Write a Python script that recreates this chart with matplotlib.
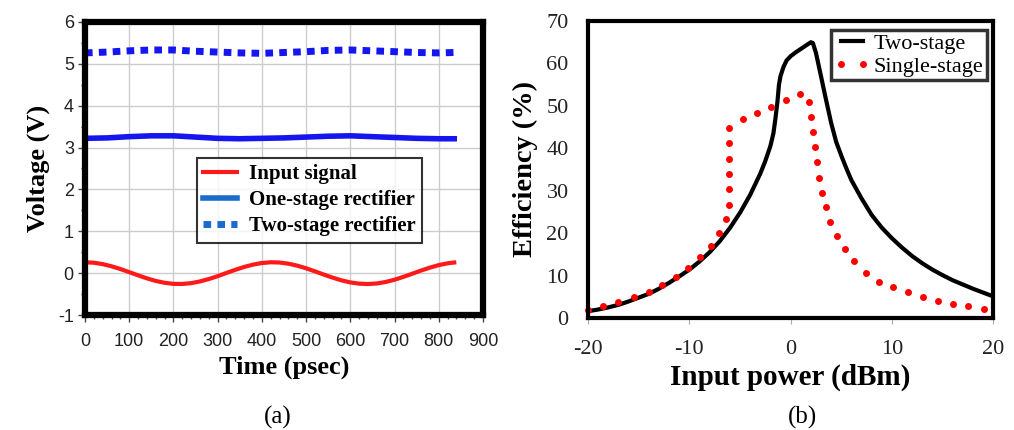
import numpy as np
import matplotlib.pyplot as plt
from matplotlib.ticker import MultipleLocator

plt.rcParams['axes.unicode_minus'] = False

# (a) rectifier output voltages
t_in = [0, 20, 40, 60, 80, 100, 120, 140, 160, 180, 200, 220, 240, 260, 280, 300,
        320, 340, 360, 380, 400, 420, 440, 460, 480, 500, 520, 540, 560, 580, 600,
        620, 640, 660, 680, 700, 720, 740, 760, 780, 800, 820, 835]
v_in = [0.26, 0.249, 0.216, 0.164, 0.099, 0.024, -0.052, -0.124, -0.186, -0.230,
        -0.256, -0.258, -0.239, -0.198, -0.141, -0.072, 0.005, 0.080, 0.148, 0.204,
        0.242, 0.260, 0.254, 0.226, 0.179, 0.116, 0.043, -0.034, -0.107, -0.172,
        -0.221, -0.251, -0.260, -0.246, -0.211, -0.157, -0.089, -0.014, 0.062,
        0.132, 0.192, 0.235, 0.254]
t_dc = [0, 50, 100, 150, 200, 250, 300, 350, 400, 450, 500, 550, 600, 650, 700, 750, 800, 835]
v_one = [3.22, 3.23, 3.26, 3.28, 3.28, 3.25, 3.22, 3.21, 3.22, 3.23, 3.25, 3.27, 3.28, 3.26, 3.24, 3.22, 3.21, 3.21]
v_two = [5.26, 5.28, 5.31, 5.33, 5.33, 5.30, 5.28, 5.26, 5.25, 5.27, 5.29, 5.32, 5.33, 5.31, 5.29, 5.27, 5.26, 5.27]

# (b) efficiency vs input power
p_two = [-20, -19, -18, -17, -16, -15, -14, -13, -12, -11, -10, -9, -8, -7, -6, -5, -4,
         -3, -2.5, -2, -1.7, -1.5, -1.3, -1.15, -1.0, -0.7, -0.4, 0, 0.5, 1, 1.5, 2.0,
         2.2, 2.5, 3, 3.4, 4, 4.5, 5, 5.5, 6, 7, 8, 9, 10, 11, 12, 13, 14, 15, 16, 17,
         18, 19, 20]
eff_two = [1.6, 2.0, 2.5, 3.1, 3.9, 4.8, 5.7, 6.9, 8.3, 9.8, 11.4, 13.3, 15.5, 18.1,
           21.2, 24.8, 29.0, 34.0, 37.0, 40.5, 43.5, 47.0, 51.0, 55.0, 57.0, 59.2, 60.7,
           61.7, 62.6, 63.4, 64.2, 65.0, 64.8, 62.5, 57.0, 52.5, 46.0, 41.5, 38.3, 35.3,
           32.5, 28.2, 24.3, 21.3, 18.8, 16.6, 14.6, 12.9, 11.4, 10.1, 8.9, 7.9, 6.9,
           6.0, 5.1]
p_one = [-20, -18.5, -17, -15.5, -14, -12.7, -11.35, -10.1, -8.94, -7.89, -7.06, -6.4,
         -6.07, -6.07, -6.07, -6.07, -6.07, -6.07, -4.72, -3.33, -1.95, -0.5, 0.89, 1.78,
         2.01, 2.21, 2.38, 2.61, 2.81, 3.1, 3.5, 3.93, 4.59, 5.35, 6.3, 7.46, 8.71, 10.13,
         11.58, 13.04, 14.59, 16.07, 17.56, 19.11]
eff_one = [1.96, 2.74, 3.68, 4.86, 6.11, 7.76, 9.72, 11.83, 14.26, 16.85, 19.98, 23.28,
           26.72, 30.41, 33.93, 37.54, 41.14, 44.75, 46.79, 48.28, 49.76, 51.41, 52.74,
           50.94, 47.34, 43.81, 40.28, 36.68, 33.07, 29.55, 26.1, 22.65, 19.36, 16.22,
           13.4, 10.58, 8.54, 7.37, 6.03, 4.94, 4.08, 3.29, 2.74, 2.19]

serif = ['Liberation Serif', 'DejaVu Serif']
sans = ['Liberation Sans', 'DejaVu Sans']

fig = plt.figure(figsize=(10.14, 4.30), dpi=100)

# ---- panel (a)
ax1 = fig.add_axes([0.0838, 0.2674, 0.3925, 0.6816])
ax1.plot(t_in, v_in, color='#ff1a1a', lw=3, label='Input signal')
ax1.plot(t_dc, v_one, color='#1515f0', lw=4, label='One-stage rectifier')
ax1.plot(t_dc, v_two, color='#1515f0', lw=5, ls=(0, (1.1, 0.9)), label='Two-stage rectifier')
ax1.set_xlim(0, 900)
ax1.set_ylim(-1, 6)
ax1.xaxis.set_major_locator(MultipleLocator(100))
ax1.xaxis.set_minor_locator(MultipleLocator(20))
ax1.yaxis.set_major_locator(MultipleLocator(1))
ax1.yaxis.set_minor_locator(MultipleLocator(0.5))
ax1.grid(True, color='#cccccc', lw=1)
ax1.set_axisbelow(True)
for s in ax1.spines.values():
    s.set_linewidth(4.5)
ax1.tick_params(which='both', direction='out', color='#444444', width=1)
ax1.tick_params(which='major', length=5)
ax1.tick_params(which='minor', length=3)
ax1.tick_params(axis='x', pad=8)
ax1.tick_params(axis='y', pad=3)
for lab in ax1.get_xticklabels() + ax1.get_yticklabels():
    lab.set_family(sans)
    lab.set_fontsize(13)
    lab.set_color('#222222')
ax1.set_xlabel('Time (psec)', family=serif, fontweight='bold', fontsize=19, labelpad=4)
ax1.set_ylabel('Voltage (V)', family=serif, fontweight='bold', fontsize=19, labelpad=6)
leg1 = ax1.legend(loc='upper left', bbox_to_anchor=(0.282, 0.537), frameon=True,
                  fancybox=False, edgecolor='black', handlelength=1.6, borderpad=0.3,
                  labelspacing=0.3, handletextpad=0.6, borderaxespad=0,
                  prop={'family': serif, 'weight': 'bold', 'size': 15})
leg1.get_frame().set_linewidth(1.5)
leg1.get_lines()[1].set_color('#1a6ccc')
leg1.get_lines()[2].set_color('#1a6ccc')
fig.text(0.274, 0.015, '(a)', family=serif, fontsize=18, ha='center')

# ---- panel (b)
ax2 = fig.add_axes([0.580, 0.2605, 0.3994, 0.6907])
ax2.plot(p_two, eff_two, color='black', lw=3, label='Two-stage')
ax2.plot(p_one, eff_one, ls='none', marker='o', ms=5, color='#ff0000', mec='none',
         label='Single-stage', clip_on=False)
ax2.set_xlim(-20, 20)
ax2.set_ylim(0, 70)
ax2.set_xticks([-20, -10, 0, 10, 20])
ax2.set_yticks(range(0, 71, 10))
for s in ax2.spines.values():
    s.set_linewidth(3)
ax2.tick_params(axis='x', direction='out', length=4, color='#aaaaaa', pad=12)
ax2.tick_params(axis='y', length=0, pad=14)
for lab in ax2.get_xticklabels() + ax2.get_yticklabels():
    lab.set_family(serif)
    lab.set_fontsize(16)
    lab.set_color('#222222')
ax2.set_xlabel('Input power (dBm)', family=serif, fontweight='bold', fontsize=21, labelpad=3)
ax2.set_ylabel('Efficiency (%)', family=serif, fontweight='bold', fontsize=20.5, labelpad=6)
leg2 = ax2.legend(loc='upper right', bbox_to_anchor=(0.985, 0.97), frameon=True,
                  fancybox=False, edgecolor='black', handlelength=1.6, borderpad=0.15,
                  labelspacing=0.1, handletextpad=0.2, numpoints=2, borderaxespad=0,
                  prop={'family': serif, 'size': 16})
leg2.get_frame().set_linewidth(2.5)
fig.text(0.791, 0.015, '(b)', family=serif, fontsize=18, ha='center')

fig.savefig('out.png', dpi=100)
